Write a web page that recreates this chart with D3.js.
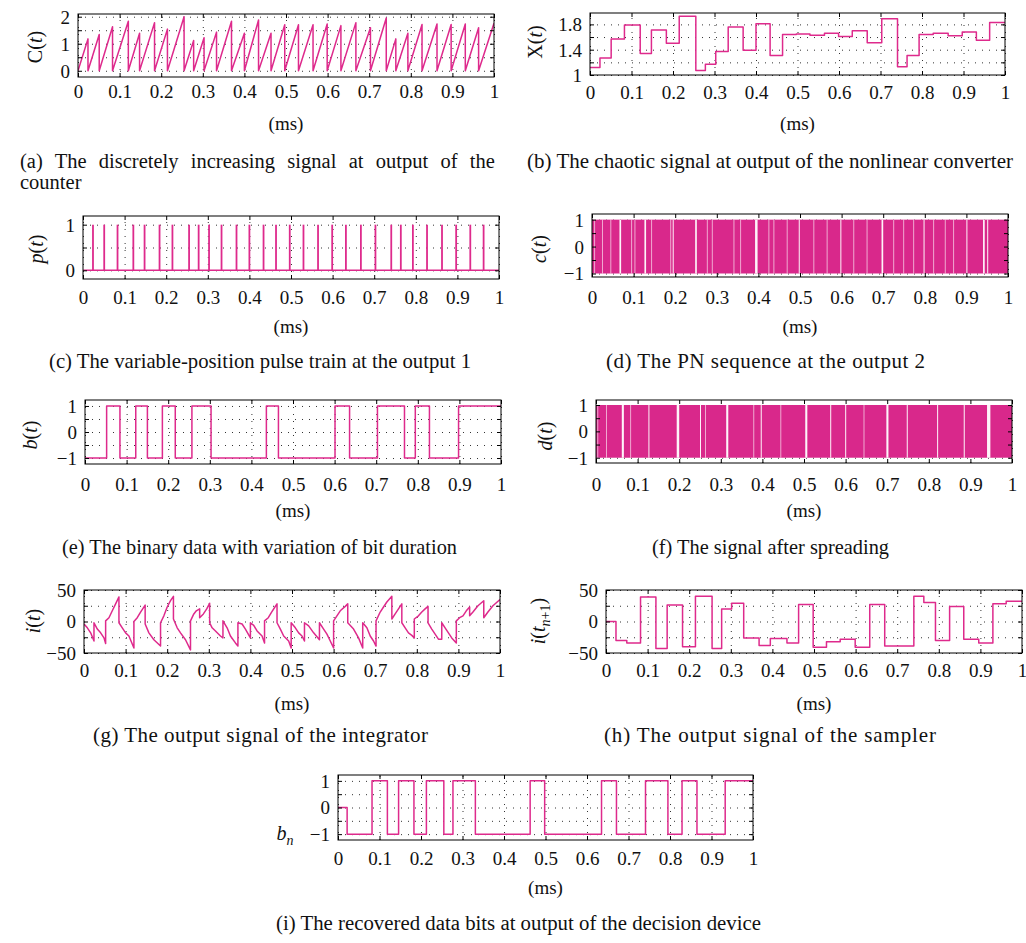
<!DOCTYPE html>
<html>
<head>
<meta charset="utf-8">
<script src="https://cdn.jsdelivr.net/npm/d3@7"></script>
<style>
  body { margin: 0; background: #fff; }
  svg text { font-family: "Liberation Serif", "Times New Roman", serif; fill: #111; }
  .grid line { stroke: #333; stroke-width: 1; stroke-dasharray: 1,6; }
  .grid path, .tk path { display: none; }
  .tk line { stroke: #000; }
  .tk text { font-size: 19px; }
  .sig { fill: none; stroke: #de2a8c; stroke-width: 1.5; stroke-linejoin: round; }
</style>
</head>
<body>
<svg id="fig" width="1026" height="943"></svg>
<script>
// ---- data (ms) ----
// reset instants of the counter / pulse positions
var resetTimes = [0.024, 0.051, 0.083, 0.121, 0.148, 0.184, 0.215, 0.255, 0.278, 0.303,
  0.333, 0.369, 0.400, 0.434, 0.464, 0.497, 0.530, 0.565, 0.599, 0.632,
  0.668, 0.703, 0.741, 0.764, 0.793, 0.827, 0.863, 0.897, 0.931, 0.963];
// counter value reached at the end of each interval
var cPeaks = [1.18, 1.34, 1.63, 1.83, 1.39, 1.78, 1.54, 2.0, 1.12, 1.22, 1.43, 1.83, 1.39, 1.88, 1.39, 1.7,
  1.7, 1.7, 1.73, 1.67, 1.78, 1.59, 1.95, 1.18, 1.39, 1.71, 1.73, 1.71, 1.73, 1.59, 1.76];
// chaotic level held on each interval
var xLevels = [1.12, 1.27, 1.57, 1.79, 1.34, 1.71, 1.50, 1.93, 1.07, 1.17, 1.37, 1.76, 1.39, 1.81, 1.31, 1.64,
  1.65, 1.63, 1.66, 1.61, 1.70, 1.51, 1.89, 1.13, 1.31, 1.64, 1.66, 1.62, 1.68, 1.55, 1.83];

// binary data b(t)
var bTimes = [0, 0.052, 0.084, 0.122, 0.150, 0.186, 0.217, 0.257, 0.303, 0.436, 0.465, 0.601, 0.636, 0.703, 0.768, 0.794, 0.828, 0.898];
var bVals  = [-1, 1, -1, 1, -1, 1, -1, 1, -1, 1, -1, 1, -1, 1, -1, 1, -1, 1];

// PN sequence / spread signal: places where the chip level holds (white gaps)
var cGaps = [[0.005,0.007],[0.024,0.025],[0.044,0.045],[0.066,0.070],[0.094,0.095],[0.102,0.103],[0.126,0.130],
  [0.142,0.143],[0.188,0.189],[0.194,0.196],[0.248,0.252],[0.276,0.277],[0.288,0.289],[0.340,0.341],[0.356,0.357],
  [0.392,0.398],[0.424,0.425],[0.436,0.437],[0.468,0.469],[0.497,0.499],[0.532,0.533],[0.564,0.565],[0.597,0.599],
  [0.628,0.629],[0.660,0.661],[0.696,0.700],[0.724,0.725],[0.748,0.749],[0.772,0.773],[0.797,0.799],[0.820,0.821],
  [0.848,0.849],[0.868,0.869],[0.900,0.902],[0.940,0.944],[0.950,0.952]];
var dGaps = [[0.003,0.004],[0.024,0.025],[0.062,0.067],[0.082,0.083],[0.126,0.128],[0.194,0.200],[0.250,0.252],
  [0.262,0.263],[0.313,0.318],[0.378,0.379],[0.396,0.398],[0.443,0.444],[0.503,0.508],[0.563,0.565],[0.599,0.601],
  [0.643,0.644],[0.698,0.703],[0.747,0.749],[0.820,0.822],[0.884,0.886],[0.940,0.948]];

// integrator output i(t): [t, value]
var iPoints = [[0,-4],[0.008,-10],[0.016,-18],[0.024,-31],[0.024,-2],[0.032,-12],[0.040,-18],[0.048,-26],[0.052,-35],
  [0.052,1],[0.060,6],[0.068,17],[0.076,28],[0.084,39],[0.084,-2],[0.092,-10],[0.100,-18],[0.108,-23],[0.120,-42],
  [0.120,0],[0.128,6],[0.136,15],[0.147,26],[0.147,-4],[0.156,-18],[0.168,-29],[0.184,-39],[0.184,-2],[0.192,9],
  [0.200,23],[0.208,33],[0.215,40],[0.215,4],[0.224,-10],[0.232,-18],[0.244,-29],[0.256,-45],[0.256,1],[0.264,12],
  [0.270,17],[0.278,20],[0.278,6],[0.287,12],[0.295,20],[0.302,29],[0.302,-2],[0.308,-10],[0.316,-15],[0.328,-23],
  [0.334,-26],[0.334,1],[0.344,-10],[0.352,-23],[0.364,-34],[0.370,-39],[0.370,-2],[0.380,-4],[0.388,-12],[0.400,-26],
  [0.400,-2],[0.408,-6],[0.416,-15],[0.428,-23],[0.434,-34],[0.434,1],[0.443,6],[0.451,15],[0.459,23],[0.464,28],
  [0.464,-2],[0.472,-12],[0.480,-23],[0.492,-31],[0.498,-42],[0.498,-2],[0.508,-10],[0.516,-18],[0.524,-23],[0.530,-31],
  [0.530,-2],[0.540,-7],[0.552,-18],[0.566,-29],[0.566,-2],[0.576,-12],[0.584,-20],[0.592,-31],[0.600,-42],[0.600,1],
  [0.608,9],[0.616,17],[0.628,24],[0.634,28],[0.634,-2],[0.648,-12],[0.660,-26],[0.670,-42],[0.670,-2],[0.680,-10],
  [0.688,-23],[0.696,-31],[0.702,-39],[0.702,1],[0.712,15],[0.720,23],[0.728,31],[0.740,40],[0.740,4],[0.748,12],
  [0.756,20],[0.764,28],[0.764,-2],[0.772,-10],[0.780,-18],[0.788,-22],[0.794,-26],[0.794,4],[0.804,9],[0.812,15],
  [0.820,20],[0.827,24],[0.827,-2],[0.836,-12],[0.844,-20],[0.852,-28],[0.860,-28],[0.860,-2],[0.868,-10],[0.876,-18],
  [0.884,-26],[0.895,-34],[0.895,1],[0.903,6],[0.911,9],[0.919,17],[0.927,23],[0.927,9],[0.935,15],[0.947,25],
  [0.961,33],[0.961,6],[0.971,15],[0.983,25],[1.0,35]];

// sampler output
var hTimes = [0, 0.024, 0.05, 0.083, 0.12, 0.147, 0.184, 0.215, 0.255, 0.278, 0.302, 0.331, 0.368, 0.395, 0.435,
  0.463, 0.498, 0.53, 0.563, 0.599, 0.634, 0.67, 0.74, 0.764, 0.792, 0.826, 0.86, 0.896, 0.93, 0.962];
var hVals = [0, -30, -34, 39, -43, 26, -40, 40, -43, 20, 29, -26, -38, -27, -34, 27, -41, -32, -28, -41, 27, -39,
  40, 30, -30, 24, -28, -34, 28, 32];

// recovered bits
var bnTimes = [0, 0.022, 0.082, 0.119, 0.146, 0.183, 0.213, 0.255, 0.277, 0.331, 0.463, 0.498, 0.635, 0.671,
  0.741, 0.795, 0.829, 0.865, 0.933];
var bnVals = [0, -1, 1, -1, 1, -1, 1, -1, 1, -1, 1, -1, 1, -1, 1, -1, 1, -1, 1];

var xTicks = d3.range(11).map(function (i) { return i / 10; });

var captions = [
  { s: "(a)  The discretely increasing signal at output of the", x: 20, y: 168, w: 482, just: true },
  { s: "counter", x: 20, y: 189, fs: 20.5 },
  { s: "(b)  The chaotic signal at output of the nonlinear converter", x: 527, y: 168, w: 486 },
  { s: "(c)  The variable-position pulse train at the output 1", x: 49, y: 368, w: 422 },
  { s: "(d)  The PN sequence at the output 2", x: 606, y: 368, w: 319 },
  { s: "(e)  The binary data with variation of bit duration", x: 62, y: 554, w: 395 },
  { s: "(f)  The signal after spreading", x: 652, y: 554, w: 237 },
  { s: "(g)  The output signal of the integrator", x: 93, y: 742, w: 335 },
  { s: "(h)  The output signal of the sampler", x: 604, y: 742, w: 332 },
  { s: "(i)  The recovered data bits at output of the decision device", x: 276, y: 930, w: 485 }
];

// ---- drawing ----
var svg = d3.select("#fig");
var clipN = 0;

function fmtX(d) { return d === 0 ? "0" : d === 1 ? "1" : d.toFixed(1); }
function fmtY(v) { return (v < 0 ? "\u2212" : "") + Math.abs(v); }

function panel(L, draw) {
  var w = L.x1 - L.x0, h = L.y1 - L.y0;
  var g = svg.append("g").attr("transform", "translate(" + L.x0 + "," + L.y0 + ")");
  var x = d3.scaleLinear().domain([0, 1]).range([0, w]);
  var y = d3.scaleLinear().domain(L.yd).range([h, 0]);

  g.append("g").attr("class", "grid").attr("transform", "translate(0," + h + ")")
    .call(d3.axisBottom(x).tickValues(xTicks).tickSize(-h).tickFormat(""));
  g.append("g").attr("class", "grid")
    .call(d3.axisLeft(y).tickValues(L.yGrid).tickSize(-w).tickFormat(""));

  var id = "clip" + (clipN++);
  g.append("clipPath").attr("id", id).append("rect").attr("width", w).attr("height", h);
  var plot = g.append("g").attr("clip-path", "url(#" + id + ")");
  draw(plot, x, y);

  var bx = g.append("g").attr("class", "tk").attr("transform", "translate(0," + h + ")")
    .call(d3.axisBottom(x).tickValues(xTicks).tickSize(-4).tickFormat(fmtX));
  bx.selectAll("text").attr("y", L.tickBase - L.y1).attr("dy", 0);
  g.append("g").attr("class", "tk").call(d3.axisTop(x).tickValues(xTicks).tickSize(-4).tickFormat(""));
  var ly = g.append("g").attr("class", "tk")
    .call(d3.axisLeft(y).tickValues(L.yGrid).tickSize(-4)
      .tickFormat(function (v) { return L.yLab.indexOf(v) >= 0 ? fmtY(v) : ""; }));
  ly.selectAll("text").attr("x", -8).attr("dy", "0.34em");
  g.append("g").attr("class", "tk").attr("transform", "translate(" + w + ",0)")
    .call(d3.axisRight(y).tickValues(L.yGrid).tickSize(-4).tickFormat(""));

  g.append("rect").attr("width", w).attr("height", h)
    .attr("fill", "none").attr("stroke", "#000").attr("stroke-width", 1);

  svg.append("text").attr("x", (L.x0 + L.x1) / 2).attr("y", L.msBase)
    .attr("text-anchor", "middle").style("font-size", "19px").text("(ms)");

  // y label
  var t = svg.append("text").style("font-size", "20px").attr("text-anchor", "middle");
  if (L.rot) t.attr("transform", "translate(" + L.lx + "," + L.ly + ") rotate(-90)").attr("dy", "0.35em");
  else t.attr("x", L.lx).attr("y", L.ly);
  L.lab.forEach(function (p) {
    var s = t.append("tspan").text(p.t);
    if (p.i) s.style("font-style", "italic");
    if (p.sub) s.style("font-size", "14px");
    if (p.dy) s.attr("dy", p.dy);
  });
}

function stepPoints(ts, vs) {
  var p = ts.map(function (t, k) { return [t, vs[k]]; });
  p.push([1, vs[vs.length - 1]]);
  return p;
}

function band(plot, x, y, gaps) {
  plot.append("rect").attr("x", x(0)).attr("width", x(1) - x(0))
    .attr("y", y(1)).attr("height", y(-1) - y(1)).attr("fill", "#d9288b");
  plot.selectAll("rect.gap").data(gaps).enter().append("rect").attr("class", "gap")
    .attr("x", function (d) { return x(d[0]); })
    .attr("width", function (d) { return Math.max(1, x(d[1]) - x(d[0])); })
    .attr("y", y(1)).attr("height", y(-1) - y(1))
    .attr("fill", "#fff").attr("opacity", function (d) { return d[1] - d[0] > 0.002 ? 0.95 : 0.6; });
}

var line = function (x, y) {
  return d3.line().x(function (d) { return x(d[0]); }).y(function (d) { return y(d[1]); });
};
var T = function (s, i) { return { t: s, i: !!i }; };

// (a) counter
panel({ x0: 78, x1: 494, y0: 14, y1: 77, yd: [-0.23, 2.1], yGrid: [0, 0.5, 1, 1.5, 2], yLab: [0, 1, 2],
  tickBase: 98, msBase: 130, rot: true, lx: 35, ly: 47, lab: [T("C"), T("("), T("t", 1), T(")")] },
  function (plot, x, y) {
    var ends = resetTimes.concat([1]), pts = [[0, 0]];
    ends.forEach(function (t, k) {
      pts.push([t, cPeaks[k]]);
      if (k < resetTimes.length) pts.push([t, 0]);
    });
    plot.append("path").attr("class", "sig").attr("d", line(x, y)(pts));
  });

// (b) chaotic signal
panel({ x0: 590, x1: 1005, y0: 13, y1: 75, yd: [1, 1.98], yGrid: [1, 1.2, 1.4, 1.6, 1.8], yLab: [1, 1.4, 1.8],
  tickBase: 99, msBase: 130, rot: true, lx: 535, ly: 42, lab: [T("X"), T("("), T("t", 1), T(")")] },
  function (plot, x, y) {
    var pts = stepPoints([0].concat(resetTimes), xLevels);
    plot.append("path").attr("class", "sig").attr("d", line(x, y).curve(d3.curveStepAfter)(pts));
  });

// (c) pulse train
panel({ x0: 83, x1: 499, y0: 216, y1: 279, yd: [-0.19, 1.19], yGrid: [0, 0.5, 1], yLab: [0, 1],
  tickBase: 304, msBase: 333, rot: true, lx: 36, ly: 249, lab: [T("p", 1), T("("), T("t", 1), T(")")] },
  function (plot, x, y) {
    plot.append("path").attr("class", "sig").attr("d", line(x, y)([[0, 0], [1, 0]]));
    plot.selectAll("line.p").data(resetTimes).enter().append("line")
      .attr("x1", function (d) { return x(d); }).attr("x2", function (d) { return x(d); })
      .attr("y1", y(0)).attr("y2", y(1)).attr("stroke", "#de2a8c").attr("stroke-width", 1.8);
  });

// (d) PN sequence
panel({ x0: 592, x1: 1008, y0: 214, y1: 277, yd: [-1.13, 1.21], yGrid: [-1, -0.5, 0, 0.5, 1], yLab: [-1, 0, 1],
  tickBase: 304, msBase: 333, rot: true, lx: 539, ly: 249, lab: [T("c", 1), T("("), T("t", 1), T(")")] },
  function (plot, x, y) { band(plot, x, y, cGaps); });

// (e) binary data
panel({ x0: 85, x1: 501, y0: 400, y1: 464, yd: [-1.23, 1.23], yGrid: [-1, -0.5, 0, 0.5, 1], yLab: [-1, 0, 1],
  tickBase: 491, msBase: 517, rot: true, lx: 30, ly: 435, lab: [T("b", 1), T("("), T("t", 1), T(")")] },
  function (plot, x, y) {
    plot.append("path").attr("class", "sig").attr("d", line(x, y).curve(d3.curveStepAfter)(stepPoints(bTimes, bVals)));
  });

// (f) spread signal
panel({ x0: 596, x1: 1012, y0: 400, y1: 463, yd: [-1.2, 1.19], yGrid: [-1, -0.5, 0, 0.5, 1], yLab: [-1, 0, 1],
  tickBase: 491, msBase: 517, rot: true, lx: 545, ly: 436, lab: [T("d", 1), T("("), T("t", 1), T(")")] },
  function (plot, x, y) { band(plot, x, y, dGaps); });

// (g) integrator
panel({ x0: 84, x1: 500, y0: 590, y1: 653, yd: [-50, 50], yGrid: [-50, -25, 0, 25, 50], yLab: [-50, 0, 50],
  tickBase: 677, msBase: 710, rot: true, lx: 33, ly: 621, lab: [T("i", 1), T("("), T("t", 1), T(")")] },
  function (plot, x, y) {
    plot.append("path").attr("class", "sig").attr("d", line(x, y)(iPoints));
  });

// (h) sampler
panel({ x0: 606, x1: 1022, y0: 590, y1: 653, yd: [-50, 50], yGrid: [-50, -25, 0, 25, 50], yLab: [-50, 0, 50],
  tickBase: 677, msBase: 710, rot: true, lx: 538, ly: 621,
  lab: [T("i", 1), T("("), T("t", 1), { t: "n", i: true, sub: true, dy: 5 }, { t: "+1", sub: true }, { t: ")", dy: -5 }] },
  function (plot, x, y) {
    plot.append("path").attr("class", "sig").attr("d", line(x, y).curve(d3.curveStepAfter)(stepPoints(hTimes, hVals)));
  });

// (i) recovered bits
panel({ x0: 338, x1: 753, y0: 775, y1: 840, yd: [-1.22, 1.22], yGrid: [-1, -0.5, 0, 0.5, 1], yLab: [-1, 0, 1],
  tickBase: 865, msBase: 894, rot: false, lx: 285, ly: 840, lab: [T("b", 1), { t: "n", i: true, sub: true, dy: 5 }] },
  function (plot, x, y) {
    plot.append("path").attr("class", "sig").attr("d", line(x, y).curve(d3.curveStepAfter)(stepPoints(bnTimes, bnVals)));
  });

// captions: size each to the width it takes in the original
captions.forEach(function (c) {
  var t = svg.append("text").attr("x", c.x).attr("y", c.y).style("font-size", (c.fs || 19.5) + "px").text(c.s);
  if (!c.w) return;
  if (c.just) {
    t.style("font-size", "20.5px");
    var len = t.node().getComputedTextLength();
    var gaps = c.s.split(" ").length - 1;
    t.style("word-spacing", Math.max(0, (c.w - len) / gaps) + "px");
  } else {
    var len0 = t.node().getComputedTextLength();
    var fs = Math.max(17, Math.min(21, 19.5 * c.w / len0));
    t.style("font-size", fs + "px");
    t.attr("textLength", c.w).attr("lengthAdjust", "spacing");
  }
});
</script>
</body>
</html>
